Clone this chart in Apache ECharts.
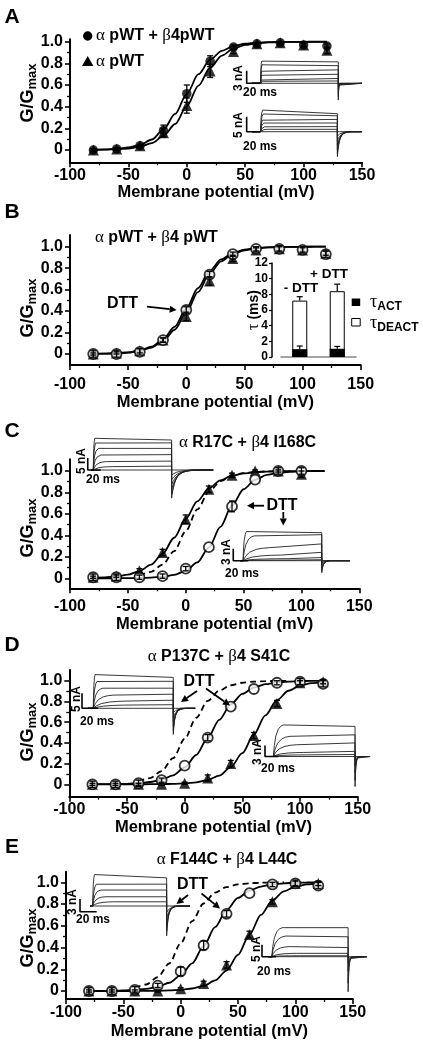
<!DOCTYPE html>
<html><head><meta charset="utf-8">
<script src="https://cdn.jsdelivr.net/npm/echarts@6/dist/echarts.min.js"></script>
<style>html,body{margin:0;padding:0;background:#fff}#c{width:423px;height:1050px}</style>
</head><body><div id="c"></div><script>
// ---------------- DATA ----------------
const volts  = [-80,-60,-40,-20,0,20,40,60,80,100,120];
const voltsC = [-80,-60,-40,-20,0,20,40,60,80,100];
const fitV   = [-80,-70,-60,-50,-40,-30,-20,-10,0,10,20,30,40,50,60,70,80,90,100,110,120];
const dashV  = [-40,-30,-20,-10,0,10,20,30,40,50,60,70,80,90];
const yTickVals  = [0,0.2,0.4,0.6,0.8,1.0];
const yMinorVals = [0.1,0.3,0.5,0.7,0.9];

// Panel A
const aCircle    = [0.00,0.01,0.04,0.18,0.52,0.82,0.95,0.98,0.99,0.97,0.96];
const aCircleErr = [0.01,0.01,0.01,0.05,0.08,0.05,0.02,0.01,0.01,0.02,0.02];
const aTri       = [0.00,0.01,0.04,0.16,0.41,0.73,0.91,0.98,0.99,0.97,0.92];
const aTriErr    = [0.01,0.01,0.01,0.04,0.07,0.06,0.02,0.01,0.01,0.02,0.03];
const aFitCircle = [0.002,0.005,0.011,0.023,0.047,0.097,0.188,0.333,0.519,0.700,0.834,0.916,0.959,0.981,0.991,0.996,0.998,0.999,0.999,1.0,1.0];
const aFitTri    = [0.001,0.003,0.007,0.014,0.031,0.063,0.128,0.240,0.405,0.595,0.760,0.872,0.936,0.970,0.986,0.993,0.997,0.998,0.999,0.999,0.999];

// Panel B
const bCircle    = [0.00,0.00,0.02,0.13,0.41,0.74,0.93,0.98,0.98,0.97,0.93];
const bCircleErr = [0.03,0.03,0.03,0.02,0.03,0.03,0.02,0.02,0.03,0.03,0.03];
const bTri       = [0.00,0.01,0.03,0.13,0.35,0.68,0.89,0.97,0.98,0.97,0.94];
const bTriErr    = [0.01,0.01,0.02,0.02,0.04,0.04,0.03,0.02,0.02,0.02,0.02];
const bFitCircle = [0.002,0.003,0.007,0.016,0.033,0.068,0.136,0.254,0.424,0.613,0.774,0.881,0.941,0.972,0.987,0.994,0.997,0.999,0.999,1.0,1.0];
const bFitTri    = [0.001,0.003,0.006,0.013,0.029,0.060,0.119,0.226,0.387,0.576,0.746,0.864,0.932,0.967,0.985,0.993,0.997,0.998,0.999,1.0,1.0];
const tauCats    = ['- DTT','+ DTT'];
const tauDeact   = [7.2, 8.4];
const tauDeactErr= [0.5, 0.9];
const tauAct     = [1.0, 1.05];
const tauActErr  = [0.4, 0.3];

// Panel C
const cTri       = [0.01,0.02,0.07,0.24,0.55,0.83,0.96,1.00,1.00,0.97];
const cTriErr    = [0.01,0.01,0.02,0.03,0.04,0.03,0.02,0.01,0.01,0.03];
const cCircle    = [0.01,0.01,0.01,0.02,0.09,0.29,0.67,0.92,1.00,1.00];
const cCircleErr = [0.03,0.03,0.02,0.02,0.02,0.0,0.05,0.0,0.03,0.03];
const cFitTri    = [0.004,0.008,0.017,0.034,0.067,0.127,0.229,0.378,0.553,0.717,0.838,0.913,0.956,0.978,0.989,0.995,0.997,0.999,0.999,1.0,1.0];
const cFitCircle = [0.000,0.000,0.001,0.001,0.003,0.006,0.014,0.032,0.070,0.148,0.286,0.479,0.679,0.830,0.918,0.963,0.983,0.993,0.997,0.999,0.999];
const wtDashed   = [0.027,0.060,0.128,0.253,0.438,0.642,0.805,0.905,0.956,0.980,0.991,0.996,0.998,0.999];

// Panel D
const dCircle    = [0.00,0.00,0.01,0.04,0.18,0.45,0.75,0.92,0.98,0.99,0.97];
const dCircleErr = [0.03,0.03,0.03,0.02,0.0,0.03,0.0,0.0,0.02,0.03,0.03];
const dTri       = [0.00,0.00,0.00,0.00,0.01,0.06,0.20,0.47,0.78,0.98,0.99];
const dTriErr    = [0.01,0.01,0.01,0.01,0.01,0.03,0.03,0.03,0.03,0.02,0.02];
const dFitCircle = [0.001,0.001,0.003,0.005,0.011,0.022,0.044,0.087,0.162,0.283,0.447,0.622,0.771,0.873,0.934,0.966,0.983,0.992,0.996,0.998,0.999];
const dFitTri    = [0.000,0.000,0.000,0.000,0.000,0.001,0.002,0.004,0.009,0.019,0.041,0.084,0.166,0.300,0.481,0.666,0.812,0.903,0.953,0.977,0.989];

// Panel E
const eCircle    = [0.00,0.00,0.01,0.05,0.18,0.42,0.71,0.90,0.98,0.99,0.97];
const eCircleErr = [0.03,0.03,0.03,0.02,0.04,0.04,0.03,0.0,0.02,0.03,0.03];
const eTri       = [0.00,0.00,0.00,0.00,0.02,0.07,0.24,0.52,0.82,0.99,0.99];
const eTriErr    = [0.01,0.01,0.01,0.01,0.01,0.02,0.03,0.03,0.02,0.02,0.02];
const eFitCircle = [0.001,0.001,0.002,0.005,0.010,0.019,0.039,0.076,0.144,0.255,0.412,0.588,0.745,0.856,0.924,0.961,0.981,0.991,0.996,0.998,0.999];
const eFitTri    = [0.000,0.000,0.000,0.000,0.000,0.001,0.002,0.005,0.011,0.023,0.047,0.097,0.188,0.333,0.519,0.700,0.834,0.916,0.959,0.981,0.991];

// Current-trace insets: each trace = [peak nA, end nA, rise ms, tail nA, tail tau ms]
const insA1 = [[5.5,5.1,2,4.0,0.6],[4.4,4.2,2,3.2,0.6],[3.3,3.2,2.5,2.4,0.6],[2.2,2.15,3,1.6,0.6],[1.2,1.15,4,0.8,0.6],[0.55,0.55,5,0.3,0.6],[0,0,1,0,1]];
const insA2 = [[7.2,6.0,3,8.3,3],[5.9,5.3,4,7.3,3.5],[4.4,4.1,5,6,4],[3.0,2.9,6,4.5,4.5],[1.7,1.7,8,3,5],[0.8,0.8,10,1.5,5],[0,0,1,0,1]];
const insC1 = [[13.75,12.5,3,11.7,6],[11.7,11.3,5,10,7],[9,9,8,8,8],[6.25,6.4,12,6,9],[3.5,3.7,20,4,10],[1.4,1.6,30,2,10],[0,0,1,0,1]];
const insC2 = [[7.6,7.0,6,3,2],[6.2,6.5,15,2.5,2.2],[3.25,4.2,35,1.8,2.5],[1.4,2.1,50,1,2.8],[0.5,0.8,60,0.5,3],[0.15,0.25,60,0.2,3],[0,0,1,0,1]];
const insD1 = [[11.7,10.3,3,8.7,2],[9.3,9.0,6,7.5,2.5],[6.7,6.7,12,6,3],[4.4,4.7,25,4.5,3.5],[2.4,2.7,40,3,4],[1.1,1.2,50,1.5,4],[0,0,1,0,1]];
const insD2 = [[8.6,8.2,15,8.2,1.2],[5.5,5.9,25,6.5,1.3],[3.2,3.7,35,4.5,1.5],[1.1,1.4,45,2.5,1.8],[0.45,0.55,50,1,2],[0,0,1,0,1]];
const insE1 = [[7.8,6.7,3,7.1,2],[5.4,5.2,6,6,2.5],[3.8,3.8,10,4.5,3],[2.2,2.2,15,3,3.5],[1.0,1.0,25,1.5,4],[0,0,1,0,1]];
const insE2 = [[12.1,12.1,15,14.6,1.2],[8.6,8.3,20,11,1.3],[4.2,3.8,25,6,1.5],[1.4,1.4,35,2.5,1.8],[0.4,0.4,40,1,2],[0,0,1,0,1]];
// scale bars [ms, nA]
const sbarA1=[20,3], sbarA2=[20,5], sbarC1=[20,5], sbarC2=[20,3], sbarD1=[20,5], sbarD2=[20,3], sbarE1=[20,3], sbarE2=[20,5];
// normalised shape templates
const riseShape = [[0,0],[0.1,0.35],[0.25,0.65],[0.5,0.87],[0.75,0.96],[1,1]];
const tailShape = [[0,1],[0.3,0.74],[0.7,0.5],[1.2,0.3],[2,0.14],[3,0.05],[4.5,0]];

// ---------------- BUILD ----------------
const FONT = '"Liberation Sans", Arial, Helvetica, sans-serif';
const grids=[], xAxes=[], yAxes=[], series=[], graphics=[];
const zip = (xs, ys) => xs.map((x,i)=>[x, ys[i]]);
const zip3 = (xs, ys, es) => xs.map((x,i)=>[x, ys[i], es[i]]);

function addMainPanel(L){
  const unit = L.y0 - L.y1;
  const ymin = -(L.bottom - L.y0)/unit, ymax = 1 + (L.y1 - L.top)/unit;
  grids.push({left:L.left, top:L.top, width:L.right-L.left, height:L.bottom-L.top});
  const gi = grids.length-1;
  const xi = xAxes.length;
  xAxes.push({gridIndex:gi, type:'value', min:-100, max:150, interval:50,
    axisLine:{onZero:false, lineStyle:{color:'#000', width:2}},
    axisTick:{length:5, lineStyle:{color:'#000', width:1.6}},
    minorTick:{show:true, splitNumber:2, length:3, lineStyle:{color:'#000', width:1.3}},
    axisLabel:{margin:L.lblMargin, color:'#000', fontSize:16, fontWeight:'bold', fontFamily:FONT},
    splitLine:{show:false},
    name:'Membrane potential (mV)', nameLocation:'middle', nameGap:L.nameGap,
    nameTextStyle:{color:'#000', fontSize:16.5, fontWeight:'bold', fontFamily:FONT}});
  const yi = yAxes.length;
  yAxes.push({gridIndex:gi, type:'value', min:ymin, max:ymax, position:'left',
    axisLine:{show:true, onZero:false, lineStyle:{color:'#000', width:2}},
    axisTick:{show:true, customValues:yTickVals, length:5, lineStyle:{color:'#000', width:1.6}},
    axisLabel:{customValues:yTickVals, margin:7, color:'#000', fontSize:16, fontWeight:'bold', fontFamily:FONT,
      formatter:v => (Math.abs(v)<1e-9 ? '0' : Number(v).toFixed(1))},
    splitLine:{show:false}});
  yAxes.push({gridIndex:gi, type:'value', min:ymin, max:ymax, position:'left',
    axisLine:{show:false, onZero:false},
    axisTick:{show:true, customValues:yMinorVals, length:3, lineStyle:{color:'#000', width:1.3}},
    axisLabel:{show:false}, splitLine:{show:false}});
  return {xi, yi};
}

function errRender(params, api){
  const x = api.value(0), y = api.value(1), e = api.value(2);
  if (!e) return null;
  const t = api.coord([x, y+e]), b = api.coord([x, y-e]);
  const st = {stroke:'#000', lineWidth:1.3};
  return {type:'group', children:[
    {type:'line', shape:{x1:t[0], y1:t[1], x2:b[0], y2:b[1]}, style:st},
    {type:'line', shape:{x1:t[0]-3, y1:t[1], x2:t[0]+3, y2:t[1]}, style:st},
    {type:'line', shape:{x1:b[0]-3, y1:b[1], x2:b[0]+3, y2:b[1]}, style:st}]};
}

function fit(ax, vs, ys, dashed){
  series.push({type:'line', xAxisIndex:ax.xi, yAxisIndex:ax.yi, data:zip(vs, ys), symbol:'none',
    smooth:0.3, smoothMonotone:'x', silent:true, z:2,
    lineStyle:{color:'#000', width:1.8, type: dashed ? [6,4] : 'solid'}});
}
function pts(ax, vs, ys, es, kind){
  const st = kind === 'open'
    ? {symbol:'circle', symbolSize:10, itemStyle:{color:'#fff', borderColor:'#000', borderWidth:1.8}}
    : kind === 'tri'
    ? {symbol:'triangle', symbolSize:11, itemStyle:{color:'#000'}}
    : {symbol:'circle', symbolSize:9.5, itemStyle:{color:'#000'}};
  series.push(Object.assign({type:'scatter', xAxisIndex:ax.xi, yAxisIndex:ax.yi, data:zip(vs, ys), silent:true,
    z: kind==='open'?4:3}, st));
  series.push({type:'custom', xAxisIndex:ax.xi, yAxisIndex:ax.yi, data:zip3(vs, ys, es),
    encode:{x:0, y:1}, renderItem:errRender, silent:true, z:5, clip:false});
}

// ---- main panels ----
const A = addMainPanel({left:70, right:362, y0:150, y1:41.7, bottom:162.3, top:39.3, lblMargin:5, nameGap:22});
fit(A, fitV, aFitCircle); fit(A, fitV, aFitTri);
pts(A, volts, aTri, aTriErr, 'tri'); pts(A, volts, aCircle, aCircleErr, 'fill');

const B = addMainPanel({left:70, right:360.7, y0:354, y1:246.7, bottom:365, top:235, lblMargin:12, nameGap:29});
fit(B, fitV, bFitCircle); fit(B, fitV, bFitTri);
pts(B, volts, bTri, bTriErr, 'tri'); pts(B, volts, bCircle, bCircleErr, 'open');

const C = addMainPanel({left:70, right:359.3, y0:578.3, y1:471, bottom:588.3, top:459.3, lblMargin:10, nameGap:28});
fit(C, dashV, wtDashed, true); fit(C, fitV, cFitTri); fit(C, fitV, cFitCircle);
pts(C, voltsC, cTri, cTriErr, 'tri'); pts(C, voltsC, cCircle, cCircleErr, 'open');

const D = addMainPanel({left:69.3, right:357.7, y0:784.3, y1:680.7, bottom:796.7, top:670, lblMargin:5, nameGap:21});
fit(D, dashV, wtDashed, true); fit(D, fitV, dFitCircle); fit(D, fitV, dFitTri);
pts(D, volts, dTri, dTriErr, 'tri'); pts(D, volts, dCircle, dCircleErr, 'open');

const E = addMainPanel({left:66, right:352.7, y0:991, y1:882.3, bottom:999, top:871.7, lblMargin:6, nameGap:24});
fit(E, dashV, wtDashed, true); fit(E, fitV, eFitCircle); fit(E, fitV, eFitTri);
pts(E, volts, eTri, eTriErr, 'tri'); pts(E, volts, eCircle, eCircleErr, 'open');

// ---- tau bar inset (panel B) ----
(function(){
  grids.push({left:281, top:263, width:75, height:94});
  const gi = grids.length-1, xi = xAxes.length, yi = yAxes.length;
  xAxes.push({gridIndex:gi, type:'category', data:tauCats, axisLine:{lineStyle:{color:'#888', width:1.5}},
    axisTick:{show:false}, axisLabel:{show:false}, splitLine:{show:false}});
  yAxes.push({gridIndex:gi, type:'value', min:0, max:12, interval:2, offset:9,
    axisLine:{show:true, onZero:false, lineStyle:{color:'#000', width:1.5}},
    axisTick:{show:true, length:3, lineStyle:{color:'#000', width:1.2}},
    axisLabel:{margin:4, color:'#000', fontSize:12, fontWeight:'bold', fontFamily:FONT},
    splitLine:{show:false}});
  series.push({type:'bar', xAxisIndex:xi, yAxisIndex:yi, data:tauDeact, barWidth:15, silent:true, z:6,
    itemStyle:{color:'#fff', borderColor:'#000', borderWidth:1}});
  series.push({type:'bar', xAxisIndex:xi, yAxisIndex:yi, data:tauAct, barWidth:15, barGap:'-100%', silent:true, z:7,
    itemStyle:{color:'#000'}});
  const up = (params, api) => {
    const x = api.value(0), y = api.value(1), e = api.value(2);
    const b = api.coord([x, y]), t = api.coord([x, y+e]);
    const st = {stroke:'#000', lineWidth:1.2};
    return {type:'group', children:[
      {type:'line', shape:{x1:b[0], y1:b[1], x2:t[0], y2:t[1]}, style:st},
      {type:'line', shape:{x1:t[0]-3, y1:t[1], x2:t[0]+3, y2:t[1]}, style:st}]};
  };
  series.push({type:'custom', xAxisIndex:xi, yAxisIndex:yi, renderItem:up, silent:true, z:8, encode:{x:0,y:1},
    data: tauCats.map((c,i)=>[i, tauDeact[i], tauDeactErr[i]]).concat(tauCats.map((c,i)=>[i, tauAct[i], tauActErr[i]]))});
})();

// ---- current trace insets ----
function tracePoints(tr, L){
  const [peak, end, rise, tail, tau] = tr;
  const p = [[0,0],[L.tOn,0]];
  const r = Math.min(rise, L.tOff - L.tOn - 1);
  riseShape.forEach(([f,g]) => { if (f>0) p.push([L.tOn + f*r, g*peak]); });
  p.push([L.tOff, end]);
  p.push([L.tOff, -tail]);
  tailShape.forEach(([f,g]) => { if (f>0) p.push([L.tOff + f*tau, -tail*g]); });
  p.push([L.tEnd, 0]);
  return p;
}
function addInset(L, traces, sbar){
  grids.push({left:L.x0 + L.tMin*L.pxMs, width:(L.tMax-L.tMin)*L.pxMs,
              top:L.base - L.yMax*L.pxNa, height:(L.yMax-L.yMin)*L.pxNa});
  const gi = grids.length-1, xi = xAxes.length, yi = yAxes.length;
  xAxes.push({gridIndex:gi, type:'value', min:L.tMin, max:L.tMax, show:false});
  yAxes.push({gridIndex:gi, type:'value', min:L.yMin, max:L.yMax, show:false});
  traces.forEach(tr => series.push({type:'line', xAxisIndex:xi, yAxisIndex:yi, data:tracePoints(tr, L),
    symbol:'none', silent:true, z:6, clip:false, lineStyle:{color:'#222', width:0.9}}));
  series.push({type:'line', xAxisIndex:xi, yAxisIndex:yi, symbol:'none', silent:true, z:7, clip:false,
    data:[[L.sbT, L.sbY + sbar[1]],[L.sbT, L.sbY],[L.sbT + sbar[0], L.sbY]],
    lineStyle:{color:'#000', width:1.6}});
  const tf = 'bold 12px ' + FONT;
  graphics.push({type:'text', x:L.naLbl[0], y:L.naLbl[1], rotation:Math.PI/2,
    style:{text: sbar[1] + ' nA', font:tf, fill:'#000', align:'center', verticalAlign:'middle'}});
  graphics.push({type:'text', x:L.msLbl[0], y:L.msLbl[1],
    style:{text: sbar[0] + ' ms', font:tf, fill:'#000', align:'center', verticalAlign:'middle'}});
}
addInset({x0:252, base:83.3, pxMs:0.667, pxNa:4.2, tMin:-10, tMax:166, yMin:-4.5, yMax:6.5, tOn:13, tOff:129.4, tEnd:164.5, sbT:-8, sbY:0, naLbl:[239,78], msLbl:[260,92.7]}, insA1, sbarA1);
addInset({x0:252, base:131.7, pxMs:0.667, pxNa:3, tMin:-10, tMax:166, yMin:-9, yMax:8.5, tOn:13, tOff:128, tEnd:164.5, sbT:-8, sbY:0, naLbl:[239,125], msLbl:[260,146.7]}, insA2, sbarA2);
addInset({x0:91, base:470, pxMs:0.65, pxNa:2.4, tMin:-8, tMax:190, yMin:-13, yMax:15.5, tOn:3.5, tOff:124, tEnd:188, sbT:-5, sbY:0, naLbl:[82,461], msLbl:[103,480]}, insC1, sbarC1);
addInset({x0:240, base:560.7, pxMs:0.75, pxNa:4, tMin:-12, tMax:148, yMin:-3.5, yMax:8.5, tOn:4, tOff:109, tEnd:146.7, sbT:-9, sbY:0, naLbl:[227,552], msLbl:[242,573.3]}, insC2, sbarC2);
addInset({x0:88, base:708.3, pxMs:0.8, pxNa:3, tMin:-12, tMax:136, yMin:-9.5, yMax:12.5, tOn:6.6, tOff:106.6, tEnd:134, sbT:-7.5, sbY:0, naLbl:[77,699], msLbl:[97,721.7]}, insD1, sbarD1);
addInset({x0:270, base:756.5, pxMs:0.667, pxNa:3.67, tMin:-8, tMax:152, yMin:-9, yMax:9.5, tOn:5, tOff:127.5, tEnd:150, sbT:-7.5, sbY:0, naLbl:[258,752], msLbl:[278,769]}, insD2, sbarD2);
addInset({x0:90, base:906, pxMs:0.833, pxNa:4.2, tMin:-14, tMax:122, yMin:-8, yMax:9, tOn:3.2, tOff:92, tEnd:120, sbT:-12, sbY:-1.36, naLbl:[73,902], msLbl:[93,920]}, insE1, sbarE1);
addInset({x0:268.3, base:956.7, pxMs:0.7, pxNa:2.4, tMin:-14, tMax:142, yMin:-16, yMax:13.5, tOn:4.9, tOff:114, tEnd:140.6, sbT:-9, sbY:0, naLbl:[257,949], msLbl:[274,971.7]}, insE2, sbarE2);

// ---- annotations ----
const bold = (s) => 'bold ' + s + 'px ' + FONT;
function txt(x, y, text, size, align, extra){
  graphics.push(Object.assign({type:'text', x, y, z:20,
    style:Object.assign({text, font:bold(size), fill:'#000', align:align||'center', verticalAlign:'middle'}, extra||{})}));
}
const greek = {a:{font:'17px "Liberation Serif", "DejaVu Serif", serif', fill:'#000'}};
['A','B','C','D','E'].forEach((l,i) => txt(12, [17,212,431,645,847][i], l, 21, 'center'));
[93,308,528,732,938].forEach(y => graphics.push({type:'text', x:29, y, rotation:Math.PI/2, z:20,
  style:{text:'{g|G/G}{s|max}', align:'center', verticalAlign:'middle', rich:{
    g:{font:bold(18), fill:'#000', lineHeight:20, verticalAlign:'top'},
    s:{font:bold(13), fill:'#000', lineHeight:14, padding:[9,0,0,0], verticalAlign:'bottom'}}}}));

// legend A
graphics.push({type:'circle', shape:{cx:87.7, cy:36, r:4.7}, style:{fill:'#000'}, z:20});
graphics.push({type:'polygon', shape:{points:[[87.7,56],[82,66],[93.4,66]]}, style:{fill:'#000'}, z:20});
txt(96, 36, '{a|α} pWT + {a|β}4pWT', 16, 'left', {rich:greek});
txt(96, 61.7, '{a|α} pWT', 16, 'left', {rich:greek});
// titles
txt(95, 237.7, '{a|α} pWT + {a|β}4 pWT', 16, 'left', {rich:greek});
txt(247.5, 442.7, '{a|α} R17C + {a|β}4 I168C', 16, 'center', {rich:greek});
txt(219, 657, '{a|α} P137C + {a|β}4 S41C', 16, 'center', {rich:greek});
txt(227, 859.3, '{a|α} F144C + {a|β}4 L44C', 16, 'center', {rich:greek});
// tau inset texts
txt(301, 288, '- DTT', 13.5, 'center');
txt(329, 274, '+ DTT', 13.5, 'center');
graphics.push({type:'text', x:254, y:310, rotation:Math.PI/2, z:20,
  style:{text:'{t|τ} (ms)', font:bold(14), fill:'#000', align:'center', verticalAlign:'middle',
    rich:{t:{font:'16px "Liberation Serif", serif', fill:'#000'}}}});
graphics.push({type:'rect', shape:{x:351.7, y:298.5, width:8.5, height:7.5}, style:{fill:'#000'}, z:20});
graphics.push({type:'rect', shape:{x:351.7, y:318.5, width:8.5, height:7.5}, style:{fill:'#fff', stroke:'#000', lineWidth:1}, z:20});
const tauRich = {t:{font:'18px "Liberation Serif", serif', fill:'#000', lineHeight:20, verticalAlign:'top'},
                 s:{font:bold(12), fill:'#000', lineHeight:12, padding:[9,0,0,0], verticalAlign:'bottom'}};
txt(370, 303, '{t|τ}{s|ACT}', 12, 'left', {rich:tauRich});
txt(370, 324, '{t|τ}{s|DEACT}', 12, 'left', {rich:tauRich});

// DTT labels and arrows
function arrow(x1, y1, x2, y2){
  const a = Math.atan2(y2-y1, x2-x1), hl = 7, hw = 3.6;
  const bx = x2 - hl*Math.cos(a), by = y2 - hl*Math.sin(a);
  graphics.push({type:'line', z:20, shape:{x1, y1, x2:bx, y2:by}, style:{stroke:'#000', lineWidth:1.8}});
  graphics.push({type:'polygon', z:20, shape:{points:[[x2,y2],[bx + hw*Math.sin(a), by - hw*Math.cos(a)],[bx - hw*Math.sin(a), by + hw*Math.cos(a)]]}, style:{fill:'#000'}});
}
txt(122.5, 304, 'DTT', 16, 'center'); arrow(147, 306.7, 176.7, 310);
txt(282, 505.7, 'DTT', 16, 'center'); arrow(264, 505.7, 247, 505.7); arrow(283.3, 512, 283.3, 525.5);
txt(199, 681.7, 'DTT', 16, 'center'); arrow(197, 691, 181, 702); arrow(206, 688.5, 230, 705.5);
txt(192.5, 885, 'DTT', 16, 'center'); arrow(188, 895, 176.5, 904); arrow(201.5, 893.5, 220, 908.5);

const chart = echarts.init(document.getElementById('c'), null, {renderer:'canvas'});
chart.setOption({animation:false, backgroundColor:'#fff', grid:grids, xAxis:xAxes, yAxis:yAxes, series, graphic:graphics});
</script></body></html>
